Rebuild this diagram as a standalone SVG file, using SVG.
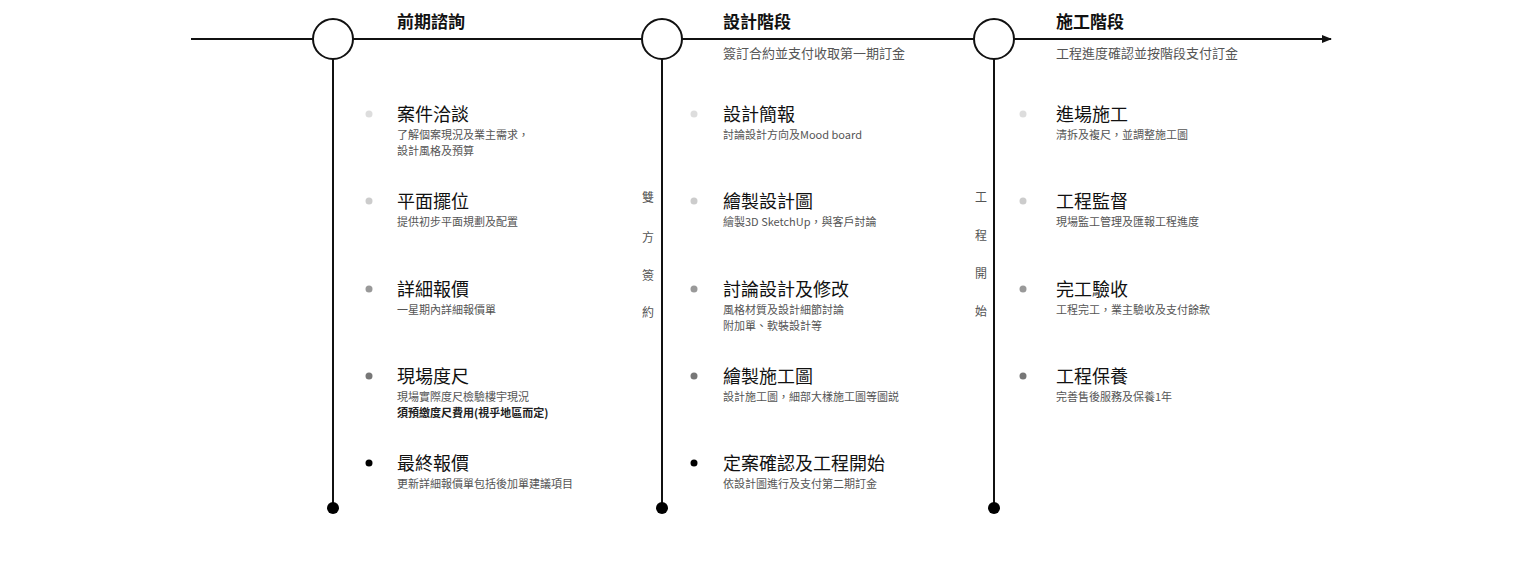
<svg xmlns="http://www.w3.org/2000/svg" width="1522" height="575" viewBox="0 0 1522 575">
<style>
text{font-family:"Noto Sans CJK TC","Liberation Sans",sans-serif}
.h{font-size:17px;font-weight:bold;fill:#111}
.s{font-size:13px;fill:#555}
.t{font-size:18px;fill:#111}
.d{font-size:11px;fill:#555}
.v{font-size:12px;fill:#555;text-anchor:middle}
.ln{stroke:#111;stroke-width:2;fill:none}
</style>
<defs><marker id="ar" markerWidth="10" markerHeight="8" refX="9" refY="4" orient="auto" markerUnits="userSpaceOnUse"><path d="M0,0L10,4L0,8Z" fill="#111"/></marker></defs>
<g id="connectors">
<line class="ln" x1="191" y1="39" x2="1331" y2="39" marker-end="url(#ar)"/>
<line class="ln" x1="333" y1="59" x2="333" y2="508"/>
<line class="ln" x1="662" y1="59" x2="662" y2="508"/>
<line class="ln" x1="994" y1="59" x2="994" y2="508"/>
</g>
<g id="stage1">
<circle cx="333" cy="39" r="20" fill="#fff" stroke="#111" stroke-width="2"/>
<circle cx="333" cy="508" r="6" fill="#000"/>
<text class="h" x="397" y="28">前期諮詢</text>
</g>
<g id="stage2">
<circle cx="662" cy="39" r="20" fill="#fff" stroke="#111" stroke-width="2"/>
<circle cx="662" cy="508" r="6" fill="#000"/>
<text class="h" x="723" y="28">設計階段</text>
<text class="s" x="723" y="58">簽訂合約並支付收取第一期訂金</text>
</g>
<g id="stage3">
<circle cx="994" cy="39" r="20" fill="#fff" stroke="#111" stroke-width="2"/>
<circle cx="994" cy="508" r="6" fill="#000"/>
<text class="h" x="1056" y="28">施工階段</text>
<text class="s" x="1056" y="58">工程進度確認並按階段支付訂金</text>
</g>
<g id="sign">
<text class="v" x="648" y="202">雙</text><text class="v" x="648" y="242">方</text><text class="v" x="648" y="280">簽</text><text class="v" x="648" y="317">約</text>
</g>
<g id="start">
<text class="v" x="981" y="202">工</text><text class="v" x="981" y="240">程</text><text class="v" x="981" y="278">開</text><text class="v" x="981" y="316">始</text>
</g>
<g id="col1">
<circle cx="369" cy="114" r="3.5" fill="#ddd"/><text class="t" x="397" y="121">案件洽談</text><text class="d" x="397" y="139">了解個案現況及業主需求，</text><text class="d" x="397" y="155">設計風格及預算</text>
<circle cx="369" cy="201" r="3.5" fill="#ccc"/><text class="t" x="397" y="208">平面擺位</text><text class="d" x="397" y="226">提供初步平面規劃及配置</text>
<circle cx="369" cy="289" r="3.5" fill="#999"/><text class="t" x="397" y="296">詳細報價</text><text class="d" x="397" y="314">一星期內詳細報價單</text>
<circle cx="369" cy="376" r="3.5" fill="#777"/><text class="t" x="397" y="383">現場度尺</text><text class="d" x="397" y="401">現場實際度尺檢驗樓宇現況</text><text class="d" x="397" y="417" style="font-weight:bold;fill:#222">須預繳度尺費用(視乎地區而定)</text>
<circle cx="369" cy="463" r="3.5" fill="#000"/><text class="t" x="397" y="470">最終報價</text><text class="d" x="397" y="488">更新詳細報價單包括後加單建議項目</text>
</g>
<g id="col2">
<circle cx="694" cy="114" r="3.5" fill="#ddd"/><text class="t" x="723" y="121">設計簡報</text><text class="d" x="723" y="139">討論設計方向及Mood board</text>
<circle cx="694" cy="201" r="3.5" fill="#ccc"/><text class="t" x="723" y="208">繪製設計圖</text><text class="d" x="723" y="226">繪製3D SketchUp，與客戶討論</text>
<circle cx="694" cy="289" r="3.5" fill="#999"/><text class="t" x="723" y="296">討論設計及修改</text><text class="d" x="723" y="314">風格材質及設計細節討論</text><text class="d" x="723" y="330">附加單、軟裝設計等</text>
<circle cx="694" cy="376" r="3.5" fill="#777"/><text class="t" x="723" y="383">繪製施工圖</text><text class="d" x="723" y="401">設計施工圖，細部大樣施工圖等圖説</text>
<circle cx="694" cy="463" r="3.5" fill="#000"/><text class="t" x="723" y="470">定案確認及工程開始</text><text class="d" x="723" y="488">依設計圖進行及支付第二期訂金</text>
</g>
<g id="col3">
<circle cx="1023" cy="114" r="3.5" fill="#ddd"/><text class="t" x="1056" y="121">進場施工</text><text class="d" x="1056" y="139">清拆及複尺，並調整施工圖</text>
<circle cx="1023" cy="201" r="3.5" fill="#ccc"/><text class="t" x="1056" y="208">工程監督</text><text class="d" x="1056" y="226">現場監工管理及匯報工程進度</text>
<circle cx="1023" cy="289" r="3.5" fill="#999"/><text class="t" x="1056" y="296">完工驗收</text><text class="d" x="1056" y="314">工程完工，業主驗收及支付餘款</text>
<circle cx="1023" cy="376" r="3.5" fill="#777"/><text class="t" x="1056" y="383">工程保養</text><text class="d" x="1056" y="401">完善售後服務及保養1年</text>
</g>
</svg>
